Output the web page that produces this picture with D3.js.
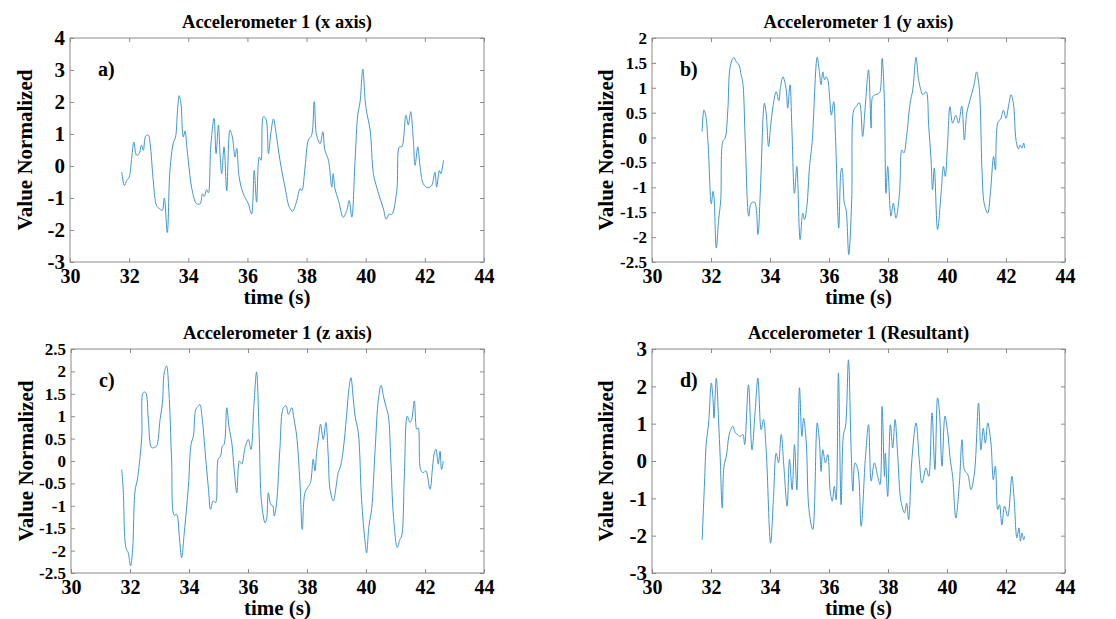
<!DOCTYPE html>
<html>
<head>
<meta charset="utf-8">
<script src="https://cdn.jsdelivr.net/npm/d3@7"></script>
<style>
  body { margin: 0; background: #fff; }
  text { font-family: "Liberation Serif", "Times New Roman", serif; font-weight: bold; fill: #000; }
</style>
</head>
<body>
<script>
// Data (time in s, normalized value)
const timeX = [31.75,31.84,31.92,32.0,32.09,32.16,32.25,32.33,32.42,32.48,32.56,32.65,32.71,32.82,32.93,33.04,33.12,33.19,33.29,33.38,33.49,33.57,33.63,33.69,33.75,33.83,33.89,33.95,34.0,34.12,34.28,34.4,34.48,34.54,34.62,34.68,34.76,34.87,34.94,35.02,35.07,35.13,35.21,35.3,35.41,35.49,35.58,35.64,35.72,35.86,36.03,36.14,36.23,36.31,36.4,36.46,36.54,36.62,36.71,36.79,36.88,36.97,37.1,37.27,37.42,37.53,37.67,37.78,37.84,37.95,38.06,38.17,38.26,38.34,38.46,38.55,38.62,38.74,38.85,38.9,38.96,39.08,39.24,39.36,39.44,39.53,39.64,39.73,39.81,39.9,39.98,40.03,40.15,40.26,40.37,40.49,40.6,40.69,40.8,40.88,41.05,41.14,41.22,41.36,41.44,41.52,41.61,41.67,41.76,41.84,41.95,42.1,42.23,42.34,42.4,42.49,42.54,42.63];
const accelX = [-0.19,-0.61,-0.45,-0.35,0.28,0.75,0.34,0.37,0.65,0.49,0.93,0.96,0.7,-0.5,-1.24,-1.34,-1.39,-1.0,-2.08,-0.14,0.7,0.91,1.65,2.2,1.96,0.91,1.09,0.6,0.18,-0.71,-1.18,-1.18,-0.87,-0.95,-0.74,-0.84,0.6,1.49,0.39,1.28,0.44,-0.24,0.6,-0.77,1.12,0.91,0.28,0.55,-0.35,-0.87,-1.18,-1.5,-0.14,-1.13,0.28,0.18,1.54,1.49,0.39,1.02,1.47,1.02,0.18,-0.66,-1.29,-1.41,-1.08,-0.71,-0.77,-0.03,0.81,0.96,2.01,0.96,0.7,1.07,0.49,0.18,-0.66,-0.24,-0.71,-1.08,-1.6,-1.39,-1.08,-1.6,0.18,1.59,2.01,3.03,2.07,1.7,1.12,-0.24,-0.66,-1.03,-1.34,-1.66,-1.5,-1.52,-0.77,0.6,0.6,1.59,1.28,1.7,0.81,0.02,0.6,-0.03,-0.56,-0.68,-0.61,-0.19,-0.66,-0.14,-0.24,0.18];

const timeY = [31.7,31.76,31.82,31.9,32.01,32.07,32.1,32.18,32.26,32.33,32.4,32.48,32.57,32.65,32.77,32.86,32.95,33.02,33.08,33.16,33.28,33.36,33.48,33.59,33.67,33.81,33.87,33.95,34.02,34.1,34.21,34.3,34.35,34.44,34.55,34.6,34.68,34.74,34.83,34.91,35.02,35.11,35.17,35.25,35.34,35.43,35.6,35.68,35.73,35.79,35.85,35.9,35.96,36.02,36.08,36.16,36.22,36.33,36.41,36.44,36.52,36.58,36.67,36.77,36.84,36.92,37.03,37.14,37.22,37.34,37.43,37.48,37.57,37.67,37.73,37.8,37.88,37.93,37.99,38.1,38.18,38.27,38.39,38.47,38.54,38.63,38.75,38.84,38.95,39.03,39.09,39.18,39.29,39.38,39.46,39.51,39.57,39.68,39.8,39.88,39.94,40.02,40.1,40.19,40.3,40.39,40.5,40.59,40.67,40.81,40.93,41.0,41.09,41.19,41.26,41.38,41.47,41.58,41.64,41.72,41.83,41.91,42.0,42.09,42.17,42.25,42.34,42.42,42.48,42.54,42.6,42.63];
const accelY = [0.12,0.55,0.45,-0.11,-1.33,-1.08,-1.18,-2.22,-1.65,-1.25,-0.08,-0.01,0.55,1.42,1.61,1.52,1.46,1.26,1.09,-0.05,-1.58,-1.32,-1.3,-1.95,-1.12,0.69,0.49,-0.18,0.22,0.62,0.92,0.74,0.99,1.22,0.96,0.59,1.06,0.22,-1.12,-0.58,-2.05,-1.52,-1.65,-1.38,-0.58,-0.08,1.61,1.29,1.06,1.32,1.16,1.22,1.16,0.82,0.45,0.72,0.02,-1.82,-0.65,-0.61,-1.32,-1.45,-2.35,-1.25,0.55,0.62,0.7,0.02,0.55,1.36,0.19,0.82,0.86,0.88,0.92,1.59,0.69,-1.12,-0.58,-1.58,-1.32,-1.62,-1.12,-0.25,-0.31,0.02,0.69,0.96,1.61,1.19,1.01,0.86,0.92,0.22,-0.45,-1.05,-0.61,-1.85,-1.12,-0.58,-0.78,-0.11,0.62,0.29,0.45,0.29,0.63,-0.05,0.49,0.82,1.09,1.32,1.02,-0.71,-1.32,-1.52,-1.12,-0.38,-0.65,0.29,0.39,0.55,0.39,0.65,0.86,0.69,-0.05,-0.23,-0.15,-0.21,-0.11,-0.21];

const timeZ = [31.72,31.77,31.86,31.94,32.02,32.09,32.17,32.25,32.32,32.4,32.45,32.53,32.62,32.73,32.82,32.9,33.02,33.1,33.16,33.24,33.32,33.41,33.5,33.58,33.67,33.75,33.84,33.98,34.07,34.15,34.23,34.32,34.37,34.45,34.54,34.66,34.73,34.82,34.9,34.99,35.07,35.13,35.19,35.28,35.36,35.45,35.53,35.62,35.71,35.79,35.9,36.01,36.1,36.2,36.29,36.38,36.46,36.58,36.63,36.69,36.77,36.84,36.89,36.97,37.08,37.2,37.29,37.37,37.48,37.56,37.65,37.76,37.84,37.93,38.05,38.12,38.21,38.27,38.33,38.38,38.46,38.55,38.64,38.72,38.78,38.89,39.06,39.14,39.23,39.34,39.42,39.49,39.57,39.63,39.74,39.85,39.97,40.02,40.1,40.19,40.31,40.42,40.51,40.59,40.67,40.76,40.84,40.93,41.06,41.15,41.21,41.3,41.4,41.49,41.55,41.64,41.72,41.77,41.85,41.94,42.03,42.17,42.26,42.32,42.37,42.45,42.51,42.56,42.62];
const accelZ = [-0.19,-0.63,-1.93,-2.05,-2.34,-1.97,-0.67,-0.41,-0.04,0.56,1.53,1.53,0.93,0.3,0.3,0.33,0.93,1.3,1.97,2.12,1.53,0.04,-1.21,-1.19,-1.67,-2.16,-1.6,-0.56,0.37,0.56,1.15,1.23,1.26,0.93,0.26,-0.63,-1.08,-0.89,-0.93,0.04,0.11,0.33,0.37,1.19,0.74,0.41,-0.19,-0.71,0.0,-0.07,0.3,0.48,0.26,1.23,1.99,0.56,-0.93,-1.38,-1.3,-0.71,-0.97,-1.0,-1.23,-0.93,0.26,1.19,1.23,1.04,1.19,0.93,0.56,-0.48,-1.53,-0.71,-0.56,-0.48,0.04,-0.22,0.22,0.45,0.82,0.48,0.86,0.11,-0.63,-0.89,-0.26,-0.11,0.26,1.0,1.6,1.86,1.38,1.0,0.63,-0.86,-1.82,-2.05,-1.45,-1.08,0.26,1.38,1.69,1.45,1.23,1.0,0.04,-1.23,-1.93,-1.75,-1.67,-0.33,1.0,0.86,0.93,1.34,0.71,0.74,-0.19,-0.26,-0.22,-0.63,-0.11,0.19,0.26,-0.07,0.22,-0.19,0.0];

const timeR = [31.7,31.78,31.84,31.92,32.01,32.07,32.1,32.18,32.26,32.31,32.38,32.44,32.52,32.63,32.74,32.83,32.91,32.99,33.08,33.14,33.27,33.39,33.5,33.59,33.7,33.78,33.87,34.02,34.12,34.21,34.29,34.38,34.47,34.58,34.66,34.75,34.83,34.91,35.0,35.08,35.14,35.23,35.32,35.45,35.6,35.68,35.73,35.79,35.88,35.96,36.04,36.11,36.18,36.24,36.32,36.41,36.49,36.56,36.66,36.75,36.81,36.88,36.98,37.09,37.23,37.34,37.43,37.54,37.65,37.73,37.8,37.88,37.91,37.99,38.08,38.16,38.24,38.33,38.44,38.56,38.63,38.7,38.81,38.95,39.06,39.15,39.29,39.38,39.49,39.59,39.68,39.74,39.83,39.93,40.02,40.11,40.19,40.3,40.42,40.51,40.59,40.71,40.81,40.93,41.07,41.15,41.23,41.3,41.38,41.49,41.57,41.64,41.72,41.78,41.86,41.95,42.06,42.2,42.27,42.37,42.44,42.49,42.54,42.6,42.63];
const accelR = [-2.11,-0.59,0.48,1.02,2.09,1.64,1.15,2.22,1.02,0.13,-1.26,-0.14,0.13,0.75,0.93,0.75,0.71,0.66,0.71,0.44,2.04,0.3,1.38,2.22,0.84,1.11,0.3,-2.2,-0.95,0.21,-0.05,0.71,-0.14,-1.21,0.04,-0.77,0.44,-0.77,1.96,0.66,1.15,0.48,-1.3,-1.84,1.02,0.48,-0.28,0.3,-0.05,0.17,-0.81,-1.08,-0.68,-1.04,2.36,-1.17,0.71,0.93,2.71,0.3,-0.81,-0.05,-0.23,-1.75,0.04,0.97,-0.54,-0.05,-0.41,-0.63,1.46,-0.41,0.21,-0.95,0.97,0.35,1.11,0.13,-1.08,-1.39,-1.13,-1.57,0.04,1.02,0.04,-0.59,-0.19,-0.41,1.29,-0.23,1.69,1.38,-0.14,1.2,0.79,0.04,-0.41,-1.53,-0.59,0.57,-0.23,-0.37,-0.77,-0.32,1.55,0.3,0.88,0.48,1.02,0.48,-0.5,-0.14,-1.3,-1.17,-1.71,-1.21,-1.48,-0.41,-0.95,-2.06,-1.79,-2.15,-1.93,-2.11,-2.02];

const timeTicks = [30, 32, 34, 36, 38, 40, 42, 44];
const yTicksA = [-3, -2, -1, 0, 1, 2, 3, 4];
const yTicksB = [-2.5, -2, -1.5, -1, -0.5, 0, 0.5, 1, 1.5, 2];
const yTicksC = [-2.5, -2, -1.5, -1, -0.5, 0, 0.5, 1, 1.5, 2, 2.5];
const yTicksD = [-3, -2, -1, 0, 1, 2, 3];

const titles = ["Accelerometer 1 (x axis)", "Accelerometer 1 (y axis)", "Accelerometer 1 (z axis)", "Accelerometer 1 (Resultant)"];
const panelLabels = ["a)", "b)", "c)", "d)"];

const W = 1116, H = 619;
const svg = d3.select("body").append("svg")
    .attr("width", W)
    .attr("height", H)
    .attr("viewBox", [0, 0, W, H]);

// panel boxes (left, top, right, bottom) and y tick font size
const panels = [
  { t: timeX, v: accelX, ticks: yTicksA, box: [70, 38, 484, 262], yFont: 21 },
  { t: timeY, v: accelY, ticks: yTicksB, box: [652, 38, 1065, 262], yFont: 17 },
  { t: timeZ, v: accelZ, ticks: yTicksC, box: [71, 349, 484, 573], yFont: 17 },
  { t: timeR, v: accelR, ticks: yTicksD, box: [652, 349, 1065, 573], yFont: 21 }
];

panels.forEach((p, i) => {
  const [x0, y0, x1, y1] = p.box;
  const w = x1 - x0, h = y1 - y0;
  const g = svg.append("g").attr("transform", `translate(${x0},${y0})`);

  const x = d3.scaleLinear().domain([30, 44]).range([0, w]);
  const y = d3.scaleLinear().domain(d3.extent(p.ticks)).range([h, 0]);

  // box
  g.append("rect")
      .attr("width", w).attr("height", h)
      .attr("fill", "none").attr("stroke", "#8a8a8a").attr("stroke-width", 1);

  const fmt = d => String(d);

  // inward ticks on all sides
  const left = g.append("g").call(d3.axisLeft(y).tickValues(p.ticks).tickFormat(fmt).tickSize(-4).tickPadding(5));
  const right = g.append("g").attr("transform", `translate(${w},0)`)
      .call(d3.axisRight(y).tickValues(p.ticks).tickFormat("").tickSize(-4));
  const bottom = g.append("g").attr("transform", `translate(0,${h})`)
      .call(d3.axisBottom(x).tickValues(timeTicks).tickFormat(fmt).tickSize(-4).tickPadding(7));
  const top = g.append("g")
      .call(d3.axisTop(x).tickValues(timeTicks).tickFormat("").tickSize(-4));

  [left, right, bottom, top].forEach(a => {
    a.select(".domain").remove();
    a.selectAll(".tick line").attr("stroke", "#8a8a8a");
  });
  left.selectAll("text").style("font-size", p.yFont + "px");
  bottom.selectAll("text").style("font-size", "20px").attr("dy", "0.72em");

  // series
  const pts = p.t.map((t, k) => [t, p.v[k]]);
  const line = d3.line()
      .x(d => x(d[0]))
      .y(d => y(d[1]))
      .curve(d3.curveCatmullRom.alpha(0.5));
  g.append("path")
      .datum(pts)
      .attr("fill", "none")
      .attr("stroke", "#3f97d0")
      .attr("stroke-width", 1)
      .attr("d", line);

  // titles and labels
  g.append("text")
      .attr("x", w / 2).attr("y", -10)
      .attr("text-anchor", "middle")
      .style("font-size", "18.5px")
      .text(titles[i]);

  g.append("text")
      .attr("x", 28).attr("y", 38)
      .style("font-size", "20px")
      .text(panelLabels[i]);

  g.append("text")
      .attr("x", w / 2).attr("y", h + 42)
      .attr("text-anchor", "middle")
      .style("font-size", "21px")
      .text("time (s)");

  g.append("text")
      .attr("transform", `translate(${i % 2 === 0 ? -45 : -46},${h / 2}) rotate(-90)`)
      .attr("text-anchor", "middle")
      .attr("dy", "0.35em")
      .style("font-size", "21px")
      .text("Value Normalized");
});
</script>
</body>
</html>
